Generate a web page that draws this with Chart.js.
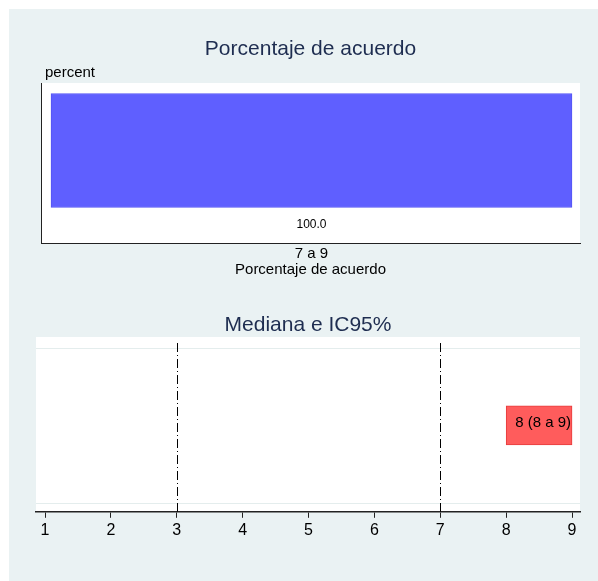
<!DOCTYPE html>
<html>
<head>
<meta charset="utf-8">
<script src="https://cdn.jsdelivr.net/npm/chart.js@4"></script>
<style>
  html, body { margin: 0; padding: 0; background: #fff; }
  #wrap { position: absolute; left: 9px; top: 9px; width: 589px; height: 572px; background: #eaf2f3; }
  #c1 { position: absolute; left: 0; top: 0; }
  #c2 { position: absolute; left: 0; top: 291px; }
</style>
</head>
<body>
<div id="wrap">
  <canvas id="c1" width="589" height="291"></canvas>
  <canvas id="c2" width="589" height="281"></canvas>
</div>
<script>
// top panel: percent of agreement
let categories = ["7 a 9"]
let percents = [100.0]
// bottom panel: median and 95% CI
let median = [8]
let ciLow = [8]
let ciHigh = [9]
let xTicks = [1, 2, 3, 4, 5, 6, 7, 8, 9]
let yGrid = [0, 2]
let refLines = [3, 7]

const FONT = "'Liberation Sans', Arial, sans-serif"
const NAVY = '#1e2d50'

// white plot region + extra text, Stata style
const panelPlugin = {
  id: 'panel',
  beforeDraw(chart) {
    const a = chart.chartArea
    const ctx = chart.ctx
    ctx.save()
    ctx.fillStyle = '#fff'
    ctx.fillRect(a.left, a.top, a.right - a.left, a.bottom - a.top)
    ctx.restore()
  },
  beforeDatasetsDraw(chart, args, opts) {
    if (opts.kind != 'ci') return
    const a = chart.chartArea
    const ctx = chart.ctx
    const ys = chart.scales.y
    ctx.save()
    ctx.strokeStyle = '#e4eded'
    ctx.lineWidth = 1
    yGrid.forEach(v => {
      const py = Math.round(ys.getPixelForValue(v)) + 0.5
      ctx.beginPath()
      ctx.moveTo(a.left, py)
      ctx.lineTo(a.right, py)
      ctx.stroke()
    })
    ctx.restore()
  },
  afterDatasetsDraw(chart, args, opts) {
    const a = chart.chartArea
    const ctx = chart.ctx
    ctx.save()
    ctx.textAlign = 'center'
    ctx.textBaseline = 'middle'
    ctx.fillStyle = NAVY
    ctx.font = '21px ' + FONT
    ctx.fillText(opts.title, (a.left + a.right) / 2, opts.titleY)
    if (opts.kind == 'bar') {
      ctx.fillStyle = '#000'
      ctx.font = '15px ' + FONT
      ctx.textAlign = 'left'
      ctx.fillText('percent', a.left + 4, a.top - 10)
      const meta = chart.getDatasetMeta(0)
      ctx.textAlign = 'center'
      meta.data.forEach((bar, i) => {
        const xs = chart.scales.x
        const cx = (xs.getPixelForValue(0) + xs.getPixelForValue(percents[i])) / 2
        ctx.font = '12px ' + FONT
        ctx.fillText(percents[i].toFixed(1), cx, bar.y + bar.height / 2 + 17)
        ctx.font = '15px ' + FONT
        ctx.fillText(categories[i], cx, a.bottom + 11)
      })
      ctx.fillText('Porcentaje de acuerdo', (a.left + a.right) / 2, a.bottom + 27)
    } else {
      // reference lines
      const xs = chart.scales.x
      ctx.strokeStyle = '#000'
      ctx.lineWidth = 1
      ctx.setLineDash([9, 3, 1, 3])
      refLines.forEach(v => {
        const px = Math.round(xs.getPixelForValue(v)) + 0.5
        ctx.beginPath()
        ctx.moveTo(px, a.top + 6)
        ctx.lineTo(px, a.bottom)
        ctx.stroke()
      })
      ctx.setLineDash([])
      const meta = chart.getDatasetMeta(0)
      ctx.fillStyle = '#000'
      ctx.font = '15px ' + FONT
      meta.data.forEach((bar, i) => {
        const cx = (xs.getPixelForValue(ciLow[i]) + xs.getPixelForValue(ciHigh[i])) / 2
        ctx.fillText(median[i] + ' (' + ciLow[i] + ' a ' + ciHigh[i] + ')', cx + 4, bar.y - 3)
      })
    }
    ctx.restore()
  }
}

new Chart(document.getElementById('c1'), {
  type: 'bar',
  data: {
    datasets: [{
      data: categories.map((c, i) => ({ x: percents[i], y: i })),
      backgroundColor: '#5f5fff',
      borderColor: '#5454f4',
      borderWidth: 1,
      borderSkipped: false,
      barThickness: 114
    }]
  },
  options: {
    responsive: false,
    animation: false,
    indexAxis: 'y',
    layout: { padding: { left: 32, right: 18, top: 74, bottom: 57 } },
    plugins: {
      legend: { display: false },
      tooltip: { enabled: false },
      panel: { kind: 'bar', title: 'Porcentaje de acuerdo', titleY: 40 }
    },
    scales: {
      x: {
        type: 'linear', min: -1.92, max: 101.54,
        ticks: { display: false },
        grid: { display: false, drawTicks: false },
        border: { display: true, color: '#222', width: 1 }
      },
      y: {
        type: 'linear', min: -1.1875, max: 0.8125,
        ticks: { display: false },
        grid: { display: false, drawTicks: false },
        border: { display: true, color: '#222', width: 1 }
      }
    }
  },
  plugins: [panelPlugin]
})

new Chart(document.getElementById('c2'), {
  type: 'bar',
  data: {
    datasets: [{
      data: median.map((m, i) => ({ x: [ciLow[i], ciHigh[i]], y: 1 })),
      backgroundColor: '#ff5c5c',
      borderColor: '#e63c3c',
      borderWidth: 1,
      borderSkipped: false,
      barThickness: 39
    }]
  },
  options: {
    responsive: false,
    animation: false,
    indexAxis: 'y',
    layout: { padding: { left: 27, right: 18, top: 37, bottom: 38 } },
    plugins: {
      legend: { display: false },
      tooltip: { enabled: false },
      panel: { kind: 'ci', title: 'Mediana e IC95%', titleY: 25 }
    },
    scales: {
      x: {
        type: 'linear', min: 0.863, max: 9.121,
        afterBuildTicks: s => { s.ticks = xTicks.map(v => ({ value: v })) },
        ticks: { color: '#000', font: { family: FONT, size: 16 }, padding: 3 },
        grid: { drawOnChartArea: false, drawTicks: true, tickLength: 6, color: '#222' },
        border: { display: true, color: '#222', width: 1.5 }
      },
      y: {
        type: 'linear', min: -0.116, max: 2.142,
        offset: false,
        ticks: { display: false },
        grid: { display: false, drawTicks: false },
        border: { display: false }
      }
    }
  },
  plugins: [panelPlugin]
})
</script>
</body>
</html>
